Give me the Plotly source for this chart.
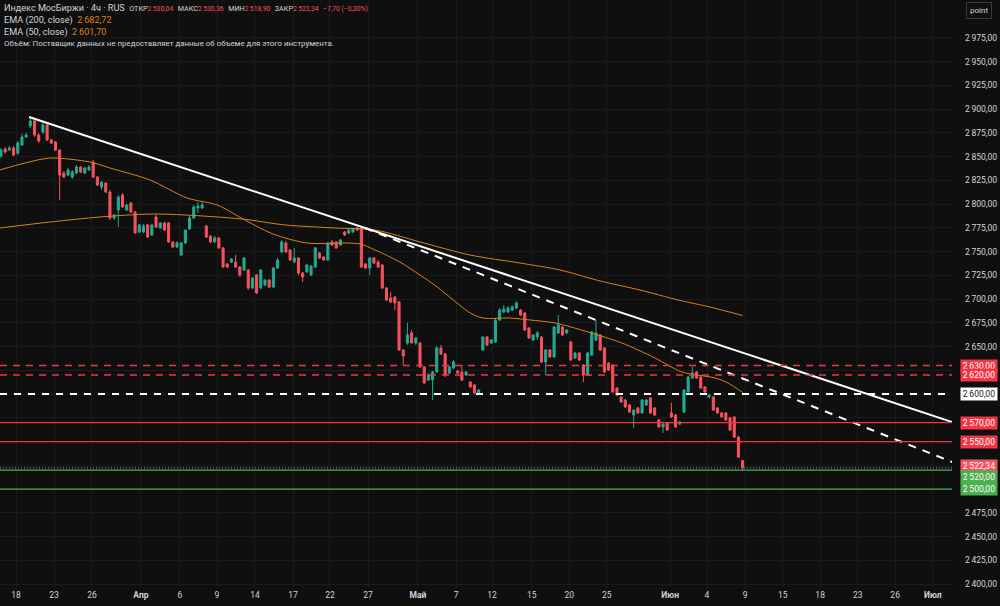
import plotly.graph_objects as go

# ---------------- data ----------------
opens = [2850.7, 2858.1, 2857.0, 2859.2, 2853.8, 2862.3, 2870.8, 2882.3, 2887.6, 2872.8,
         2876.0, 2883.4, 2867.6, 2865.5, 2857.0, 2832.8, 2830.7, 2828.6, 2832.8, 2839.1,
         2832.8, 2836.0, 2844.4, 2828.6, 2818.0, 2822.3, 2812.8, 2785.4, 2793.9, 2809.6,
         2793.9, 2801.2, 2791.8, 2770.7, 2770.7, 2778.1, 2767.5, 2786.5, 2774.9, 2780.2,
         2780.2, 2760.2, 2754.9, 2746.5, 2759.1, 2773.9, 2785.4, 2796.0, 2796.0, 2777.0,
         2766.5, 2760.2, 2764.4, 2753.9, 2737.0, 2739.1, 2739.1, 2733.8, 2730.7, 2730.7,
         2711.7, 2725.4, 2711.7, 2714.9, 2720.1, 2712.8, 2732.8, 2749.6, 2759.1, 2751.7,
         2739.1, 2743.3, 2727.5, 2728.6, 2725.4, 2733.8, 2748.6, 2744.4, 2741.2, 2760.2,
         2760.2, 2757.0, 2770.7, 2769.6, 2770.7, 2774.9, 2774.9, 2737.0, 2732.8, 2743.3,
         2739.1, 2735.9, 2711.7, 2701.2, 2702.2, 2697.0, 2646.4, 2653.8, 2664.6, 2653.8,
         2653.8, 2628.5, 2614.8, 2614.8, 2623.3, 2648.5, 2642.2, 2622.2, 2627.5, 2624.3,
         2623.3, 2620.1, 2612.7, 2609.6, 2601.2, 2646.4, 2660.1, 2653.8, 2654.9, 2678.0,
         2686.4, 2686.4, 2688.5, 2690.6, 2688.5, 2685.4, 2669.6, 2657.0, 2660.1, 2660.1,
         2633.8, 2646.4, 2639.1, 2664.3, 2670.6, 2664.3, 2654.9, 2638.0, 2643.3, 2630.6,
         2620.1, 2641.2, 2657.0, 2662.2, 2648.5, 2632.7, 2630.6, 2606.4, 2596.9, 2593.8,
         2588.5, 2578.0, 2585.4, 2580.1, 2588.5, 2595.9, 2585.4, 2572.7, 2565.4, 2569.6,
         2580.1, 2578.0, 2568.5, 2581.1, 2602.2, 2616.9, 2623.3, 2618.0, 2607.5, 2596.9,
         2596.9, 2585.4, 2580.1, 2580.1, 2574.9, 2575.9, 2554.8, 2530.04]

highs = [2859.2, 2860.2, 2861.3, 2861.3, 2866.5, 2873.9, 2874.9, 2891.8, 2889.7, 2874.9,
         2886.5, 2884.4, 2868.6, 2866.5, 2858.1, 2834.9, 2838.1, 2836.0, 2841.2, 2840.2,
         2839.1, 2841.2, 2846.5, 2829.6, 2824.4, 2823.3, 2814.9, 2789.6, 2809.6, 2811.7,
         2800.2, 2802.3, 2792.8, 2779.1, 2779.1, 2779.1, 2779.1, 2788.6, 2781.2, 2781.2,
         2781.2, 2761.2, 2761.2, 2760.2, 2771.7, 2787.5, 2799.1, 2802.3, 2802.3, 2778.1,
         2767.5, 2766.5, 2765.4, 2754.9, 2738.0, 2743.3, 2746.5, 2734.9, 2744.4, 2731.7,
         2723.3, 2726.4, 2731.7, 2721.2, 2721.2, 2733.8, 2743.3, 2762.3, 2761.2, 2752.8,
         2753.9, 2744.4, 2728.6, 2737.0, 2735.9, 2754.9, 2749.6, 2745.4, 2760.2, 2762.3,
         2761.2, 2763.3, 2771.7, 2774.9, 2774.9, 2776.0, 2776.0, 2738.0, 2744.4, 2744.4,
         2741.2, 2737.0, 2712.8, 2707.5, 2703.3, 2698.0, 2647.5, 2674.9, 2667.5, 2660.1,
         2654.9, 2629.6, 2622.2, 2624.3, 2650.6, 2651.7, 2643.3, 2629.6, 2635.9, 2625.4,
         2630.6, 2624.3, 2613.8, 2610.6, 2605.4, 2661.2, 2661.2, 2658.0, 2680.1, 2690.6,
         2693.8, 2692.8, 2693.8, 2698.0, 2689.6, 2686.4, 2670.6, 2663.3, 2666.4, 2661.2,
         2647.5, 2647.5, 2671.7, 2683.3, 2671.7, 2668.5, 2655.9, 2644.3, 2644.3, 2631.7,
         2644.3, 2666.4, 2678.0, 2663.3, 2649.6, 2633.8, 2631.7, 2607.5, 2598.0, 2594.8,
         2589.6, 2584.3, 2586.4, 2594.8, 2594.8, 2596.9, 2586.4, 2573.8, 2569.6, 2570.6,
         2590.6, 2579.1, 2571.7, 2605.4, 2619.1, 2628.5, 2624.3, 2619.1, 2608.5, 2600.1,
         2598.0, 2586.4, 2581.1, 2581.1, 2575.9, 2577.0, 2555.9, 2530.36]

lows = [2848.6, 2852.8, 2856.0, 2850.7, 2851.7, 2861.3, 2869.7, 2880.2, 2870.8, 2864.4,
        2873.9, 2866.5, 2863.4, 2856.0, 2804.4, 2827.5, 2829.7, 2826.5, 2831.8, 2832.8,
        2831.8, 2834.9, 2827.5, 2819.1, 2814.9, 2811.7, 2783.3, 2783.3, 2776.0, 2796.0,
        2792.8, 2790.7, 2768.6, 2769.6, 2769.6, 2764.4, 2766.5, 2774.9, 2773.9, 2771.7,
        2759.1, 2753.9, 2753.9, 2745.4, 2758.1, 2772.8, 2784.4, 2790.7, 2794.9, 2764.4,
        2759.1, 2759.1, 2752.8, 2732.8, 2732.8, 2738.0, 2732.8, 2723.3, 2729.6, 2709.6,
        2710.7, 2705.4, 2710.7, 2713.8, 2711.7, 2711.7, 2731.7, 2748.6, 2748.6, 2740.2,
        2738.0, 2725.4, 2718.0, 2727.5, 2724.3, 2732.8, 2742.2, 2740.2, 2740.2, 2755.9,
        2752.8, 2755.9, 2766.5, 2768.6, 2769.6, 2771.7, 2732.8, 2731.7, 2725.4, 2737.0,
        2732.8, 2710.7, 2698.0, 2696.0, 2688.5, 2645.4, 2630.6, 2651.7, 2655.9, 2651.7,
        2627.5, 2610.6, 2613.8, 2593.8, 2622.2, 2641.2, 2618.0, 2621.2, 2626.4, 2621.2,
        2613.8, 2619.1, 2606.4, 2600.1, 2600.1, 2645.4, 2650.6, 2652.8, 2653.8, 2676.9,
        2685.4, 2685.4, 2687.5, 2689.6, 2682.2, 2666.4, 2658.0, 2655.9, 2657.0, 2632.7,
        2620.1, 2638.0, 2638.0, 2663.3, 2661.2, 2663.3, 2634.8, 2636.9, 2634.8, 2612.7,
        2619.1, 2640.1, 2655.9, 2645.4, 2622.2, 2624.3, 2601.2, 2598.0, 2590.6, 2585.4,
        2580.1, 2564.3, 2579.1, 2579.1, 2587.5, 2579.1, 2577.0, 2564.3, 2559.0, 2561.2,
        2574.9, 2564.3, 2567.5, 2580.1, 2601.2, 2615.9, 2615.9, 2605.4, 2601.2, 2595.9,
        2582.2, 2579.1, 2574.9, 2571.7, 2561.2, 2553.8, 2532.7, 2518.90]

closes = [2857.0, 2854.9, 2859.2, 2851.7, 2864.4, 2870.8, 2872.8, 2887.6, 2872.8, 2866.5,
          2883.4, 2867.6, 2864.4, 2857.0, 2830.7, 2828.6, 2836.0, 2833.9, 2839.1, 2833.9,
          2838.1, 2839.1, 2828.6, 2820.2, 2823.3, 2812.8, 2785.4, 2788.6, 2807.5, 2797.0,
          2799.1, 2791.8, 2769.6, 2778.1, 2777.0, 2765.4, 2778.1, 2776.0, 2780.2, 2772.8,
          2760.2, 2754.9, 2759.1, 2759.1, 2772.8, 2785.4, 2797.0, 2798.1, 2799.1, 2765.4,
          2760.2, 2764.4, 2753.9, 2733.8, 2733.8, 2742.2, 2733.8, 2725.4, 2743.3, 2711.7,
          2722.2, 2706.4, 2730.7, 2720.1, 2712.8, 2732.8, 2741.2, 2760.2, 2749.6, 2741.2,
          2743.3, 2727.5, 2723.3, 2735.9, 2734.9, 2753.9, 2743.3, 2741.2, 2759.1, 2757.0,
          2753.9, 2762.3, 2767.5, 2772.8, 2773.9, 2772.8, 2733.8, 2732.8, 2743.3, 2738.0,
          2733.8, 2711.7, 2699.1, 2697.0, 2696.0, 2646.4, 2640.1, 2662.2, 2653.8, 2659.1,
          2628.5, 2611.7, 2620.1, 2623.3, 2648.5, 2642.2, 2620.1, 2628.5, 2633.8, 2622.2,
          2614.8, 2623.3, 2607.5, 2601.2, 2604.3, 2660.1, 2651.7, 2657.0, 2678.0, 2688.5,
          2689.6, 2690.6, 2691.7, 2696.0, 2683.3, 2667.5, 2659.1, 2662.2, 2664.3, 2633.8,
          2646.4, 2639.1, 2670.6, 2672.7, 2662.2, 2667.5, 2635.9, 2643.3, 2635.9, 2620.1,
          2643.3, 2665.4, 2664.3, 2646.4, 2623.3, 2625.4, 2602.2, 2599.0, 2591.7, 2586.4,
          2581.1, 2583.2, 2580.1, 2593.8, 2593.8, 2580.1, 2578.0, 2565.4, 2568.5, 2562.2,
          2575.9, 2565.4, 2570.6, 2604.3, 2618.0, 2622.2, 2616.9, 2606.4, 2602.2, 2599.0,
          2583.2, 2580.1, 2575.9, 2572.7, 2562.2, 2554.8, 2533.7, 2522.34]

bars = list(range(len(opens)))

# EMA lines read at points along the curves (bar index, value)
ema200_bar = [-0.3, 11.7, 23.6, 35.6, 43.9, 57.5, 67.8, 79.7, 89.3, 100, 111.9, 123.9,
              133.4, 143, 152.5, 161.6, 169.2, 177]
ema200_val = [2774.9, 2781.2, 2786.5, 2789.6, 2788.6, 2784.4, 2778.1, 2774.9, 2772.8, 2760.2,
              2746.5, 2738.0, 2730.7, 2719.1, 2709.6, 2699.1, 2691.7, 2682.72]
ema50_bar = [-0.3, 5.7, 11.7, 21.2, 26.0, 35.6, 44.4, 51.6, 58.2, 64.9, 73.0, 82.1, 85.7,
             89.3, 95.2, 100.0, 104.1, 112.0, 115.0, 121.5, 126.3, 132.2, 140.1, 148.2,
             156.1, 162.5, 170.4, 173.5, 177]
ema50_val = [2836.0, 2843.3, 2848.6, 2844.4, 2838.1, 2825.4, 2806.5, 2799.1, 2783.3, 2768.6,
             2759.1, 2759.1, 2758.1, 2751.7, 2739.1, 2725.4, 2712.8, 2685.4, 2680.1, 2680.1,
             2678.0, 2674.9, 2665.4, 2653.8, 2638.0, 2623.3, 2617.0, 2611.7, 2601.70]

# drawn trend lines (bar index, value)
trend_solid_bar = [6.7, 227.5]
trend_solid_val = [2891.8, 2569.9]
trend_dash_bar = [86.9, 227.5]
trend_dash_val = [2774.9, 2527.6]

# horizontal levels
red_dashed_levels = [2630, 2620]
white_dashed_levels = [2600]
red_solid_levels = [2570, 2550]
green_levels = [2520, 2500]
last_price = 2522.34

# time axis
tick_pos = [3.6, 12.65, 21.7, 33.4, 42.7, 51.55, 60.6, 69.7, 78.5, 87.6, 99.5, 108.6,
            117.2, 126.7, 135.6, 144.6, 159.7, 168.5, 177.6, 186.6, 195.5, 204.5, 213.4, 222.4]
tick_labels = ["18", "23", "26", "<b>Апр</b>", "6", "9", "14", "17", "22", "27", "<b>Май</b>",
               "7", "12", "15", "20", "25", "<b>Июн</b>", "4", "9", "15", "18", "23", "26",
               "<b>Июл</b>"]

price_ticks = list(range(2400, 3000, 25))
hidden_price_ticks = [2500, 2525, 2550, 2575, 2600, 2625]   # covered by the level labels

# ---------------- styling ----------------
BG = "#0f0f0f"
GRID = "#1b1b1b"
TXT = "#d1d4dc"
UP = "#22ab94"
DOWN = "#f7525f"
RED = "#f23645"
GREEN = "#4caf50"
ORANGE = "#d9821f"
FONT = "Roboto, 'Noto Sans', sans-serif"

W, H = 1000, 606
ML, MR, MT, MB = 0, 48, 0, 18
PW, PH = W - ML - MR, H - MT - MB


def fmt(v, dec=2):
    s = f"{v:,.{dec}f}"
    s = s.replace(",", "\u2009").replace(".", ",")
    return s


fig = go.Figure()

fig.add_trace(go.Candlestick(
    x=bars, open=opens, high=highs, low=lows, close=closes,
    increasing=dict(line=dict(color=UP, width=1), fillcolor=UP),
    decreasing=dict(line=dict(color=DOWN, width=1), fillcolor=DOWN),
    whiskerwidth=0, showlegend=False, hoverinfo="skip"))

fig.add_trace(go.Scatter(x=ema200_bar, y=ema200_val, mode="lines",
                         line=dict(color=ORANGE, width=1, shape="spline", smoothing=0.8),
                         showlegend=False, hoverinfo="skip"))
fig.add_trace(go.Scatter(x=ema50_bar, y=ema50_val, mode="lines",
                         line=dict(color=ORANGE, width=1, shape="spline", smoothing=0.8),
                         showlegend=False, hoverinfo="skip"))

fig.add_trace(go.Scatter(x=trend_solid_bar, y=trend_solid_val, mode="lines",
                         line=dict(color="#ffffff", width=2),
                         showlegend=False, hoverinfo="skip"))
fig.add_trace(go.Scatter(x=trend_dash_bar, y=trend_dash_val, mode="lines",
                         line=dict(color="#ffffff", width=2, dash="8px,7px"),
                         showlegend=False, hoverinfo="skip"))

shapes = []
for lv in red_dashed_levels:
    shapes.append(dict(type="line", xref="paper", x0=0, x1=1, yref="y", y0=lv, y1=lv,
                       line=dict(color=RED, width=1.5, dash="7px,6px"), layer="above"))
for lv in white_dashed_levels:
    shapes.append(dict(type="line", xref="paper", x0=0, x1=1, yref="y", y0=lv, y1=lv,
                       line=dict(color="#ffffff", width=2, dash="7px,7px"), layer="above"))
for lv in red_solid_levels:
    shapes.append(dict(type="line", xref="paper", x0=0, x1=1, yref="y", y0=lv, y1=lv,
                       line=dict(color=RED, width=1.2), layer="above"))
for lv in green_levels:
    shapes.append(dict(type="line", xref="paper", x0=0, x1=1, yref="y", y0=lv, y1=lv,
                       line=dict(color=GREEN, width=1.2), layer="above"))
shapes.append(dict(type="line", xref="paper", x0=0, x1=1, yref="y", y0=last_price, y1=last_price,
                   line=dict(color="#9a9a9a", width=1, dash="1px,2px"), layer="above"))

annotations = []

sp = "\u00a0"
lab = "font-size:7.2px"
val = "font-size:6.8px"
line1 = ("Индекс МосБиржи · 4ч · RUS" + sp * 2 +
         f"<span style='{lab}'>ОТКР</span><span style='{val};color:{DOWN}'>{fmt(opens[-1])}</span>" + sp * 2 +
         f"<span style='{lab}'>МАКС</span><span style='{val};color:{DOWN}'>{fmt(highs[-1])}</span>" + sp * 2 +
         f"<span style='{lab}'>МИН</span><span style='{val};color:{DOWN}'>{fmt(lows[-1])}</span>" + sp * 2 +
         f"<span style='{lab}'>ЗАКР</span><span style='{val};color:{DOWN}'>{fmt(closes[-1])}</span>" + sp * 2 +
         f"<span style='{val};color:{DOWN}'>−7,70 (−0,30%)</span>")
line2 = "EMA (200, close)" + sp * 2 + f"<span style='color:{ORANGE}'>{fmt(ema200_val[-1])}</span>"
line3 = "EMA (50, close)" + sp * 2 + f"<span style='color:{ORANGE}'>{fmt(ema50_val[-1])}</span>"
line4 = ("<span style='font-size:7.9px'>Объём: Поставщик данных не предоставляет данные "
         "об объеме для этого инструмента.</span>")
annotations.append(dict(xref="paper", yref="paper", x=0, y=1, xshift=2, yshift=-1,
                        xanchor="left", yanchor="top", align="left",
                        text="<br>".join([line1, line2, line3, line4]), showarrow=False,
                        font=dict(family=FONT, size=9.1, color=TXT)))

# "point" button
annotations.append(dict(xref="paper", yref="paper", x=(979 - ML) / PW, y=1 - 11 / PH,
                        xanchor="center", yanchor="middle", text="point", showarrow=False,
                        font=dict(family=FONT, size=8, color=TXT), bordercolor="#3a3a3a",
                        borderwidth=1, borderpad=3, bgcolor=BG))

# price labels on the axis
price_boxes = [
    (2630, RED, "#ffffff", 0),
    (2620, RED, "#ffffff", 0),
    (2600, "#ffffff", "#131313", 0),
    (2570, RED, "#ffffff", 0),
    (2550, RED, "#ffffff", 0),
    (last_price, DOWN, "#ffffff", 2),
    (2520, GREEN, "#ffffff", -7),
    (2500, GREEN, "#ffffff", 0),
]
for v, bg, fg, ys in price_boxes:
    annotations.append(dict(xref="paper", yref="y", x=1, y=v, xanchor="left", yanchor="middle",
                            xshift=8, yshift=ys, text=fmt(v), showarrow=False, width=35,
                            height=10.5, align="center", bgcolor=bg, borderpad=0.5,
                            font=dict(family=FONT, size=8.5, color=fg)))

fig.update_layout(
    width=W, height=H, autosize=False,
    margin=dict(l=ML, r=MR, t=MT, b=MB),
    paper_bgcolor=BG, plot_bgcolor=BG,
    shapes=shapes, annotations=annotations,
    font=dict(family=FONT, size=8, color=TXT),
    xaxis=dict(range=[-0.24, 226.97], tickvals=tick_pos, ticktext=tick_labels,
               showgrid=True, gridcolor=GRID, gridwidth=1, zeroline=False,
               showline=False, ticks="", tickfont=dict(family=FONT, size=8.5, color=TXT),
               rangeslider=dict(visible=False), fixedrange=True),
    yaxis=dict(range=[2395.8, 3015.0], side="right", tickvals=price_ticks,
               ticktext=["" if v in hidden_price_ticks else fmt(v) for v in price_ticks],
               showgrid=True, gridcolor=GRID,
               zeroline=False, showline=False, ticks="", ticklabelstandoff=12,
               tickfont=dict(family=FONT, size=8.5, color=TXT), fixedrange=True),
)

fig.write_html("out.html")
